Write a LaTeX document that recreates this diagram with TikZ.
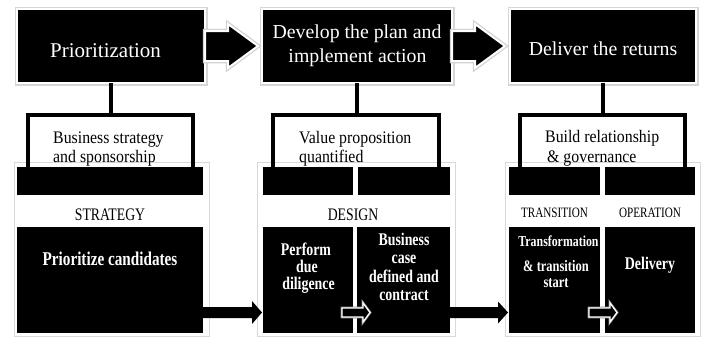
\documentclass[tikz,border=0pt]{standalone}
\usepackage{fontspec}
\setmainfont{Liberation Serif}
\newfontfamily\lowfont{Liberation Serif}[FakeStretch=0.78]
\newfontfamily\midfont{Liberation Serif}[FakeStretch=0.9]
\usetikzlibrary{calc}
\newcommand{\myarrow}[6]{\path[#1] let \p1=(#2), \p2=(#3) in (\x1,{\y1+#4}) -- ({\x2-#6},{\y1+#4}) -- ({\x2-#6},{\y1+#5}) -- (\x2,\y1) -- ({\x2-#6},{\y1-#5}) -- ({\x2-#6},{\y1-#4}) -- (\x1,{\y1-#4}) -- cycle;}
\tikzset{
 topbox/.style={fill=black, draw=white, line width=2pt, preaction={draw=black!16, line width=5pt}, inner sep=0pt, outer sep=0pt, minimum height=74pt},
 bar/.style={fill=black, inner sep=0pt, outer sep=0pt, minimum height=28pt},
 lowbox/.style={fill=black, inner sep=0pt, outer sep=0pt, minimum height=106pt},
 frame/.style={draw=black!15, line width=0.9pt},
 bracket/.style={draw=black, line width=4.5pt},
 fatarrow/.style={fill=black, draw=white, line width=2pt, preaction={draw=black!18, line width=4.5pt}},
 blackarrow/.style={fill=black},
 hollowarrow/.style={fill=black, draw=white, line width=1.3pt, preaction={draw=black!45, line width=2.6pt}},
 titletext/.style={text=white, font=\fontsize{19.8}{24}\selectfont, anchor=base, inner sep=0pt},
 boxtext/.style={text=white, font=\lowfont\bfseries\fontsize{17.8}{18}\selectfont, anchor=base, inner sep=0pt},
 phase/.style={font=\lowfont\fontsize{17.6}{18}\selectfont, anchor=base, inner sep=0pt},
 subphase/.style={font=\lowfont\fontsize{14.3}{16}\selectfont, anchor=base, inner sep=0pt},
 brtext/.style={font=\midfont\fontsize{17.6}{20}\selectfont, anchor=base west, inner sep=0pt},
}
\begin{document}
\begin{tikzpicture}[x=1pt,y=-1pt]
\useasboundingbox[fill=white] (0,0) rectangle (704,338);
% column frames
\draw[frame] (14,162) rectangle (209,336);
\draw[frame] (257,162) rectangle (455,336);
\draw[frame] (505,162) rectangle (700,336);
% top boxes
\node[topbox, minimum width=188pt] (prio) at (111,46) {};
\node[topbox, minimum width=190pt] (dev) at (357,46) {};
\node[topbox, minimum width=186pt] (del) at (603,46) {};
\node[titletext, font=\fontsize{21}{24}\selectfont] (tprio) at (105.5,57) {Prioritization};
\node[titletext] (tdevA) at (357,38) {Develop the plan and};
\node[titletext] (tdevB) at (357.5,62) {implement action};
\node[titletext] (tdel) at (603,55) {Deliver the returns};
% top arrows
\myarrow{fatarrow}{prio.east}{[xshift=-4pt]dev.west}{15pt}{22pt}{30pt}
\myarrow{fatarrow}{dev.east}{[xshift=-5pt]del.west}{15pt}{22pt}{30pt}
% bars
\node[bar, minimum width=186pt] (sbar) at (110,181) {};
\node[bar, minimum width=90pt] (dbarA) at (308,181) {};
\node[bar, minimum width=92pt] (dbarB) at (404,181) {};
\node[bar, minimum width=91pt] (tbarA) at (554.5,181) {};
\node[bar, minimum width=90pt] (tbarB) at (650,181) {};
% brackets
\coordinate (jA) at (111,115);
\coordinate (lA) at (28,115);
\coordinate (rA) at (193,115);
\coordinate (jB) at (357,115);
\coordinate (lB) at (273,115);
\coordinate (rB) at (439,115);
\coordinate (jC) at (603,115);
\coordinate (lC) at (520,115);
\coordinate (rC) at (685,115);
\draw[bracket] (prio.south) -- (jA);
\draw[bracket] (lA |- sbar.north) -- (lA) -- (rA) -- (rA |- sbar.north);
\draw[bracket] (dev.south) -- (jB);
\draw[bracket] (lB |- dbarA.north) -- (lB) -- (rB) -- (rB |- dbarB.north);
\draw[bracket] (del.south) -- (jC);
\draw[bracket] (lC |- tbarA.north) -- (lC) -- (rC) -- (rC |- tbarB.north);
\node[brtext] (bsA) at (53,143) {Business strategy};
\node[brtext] (bsB) at (53,162) {and sponsorship};
\node[brtext] (vpA) at (299,143) {Value proposition};
\node[brtext] (vpB) at (299,162) {quantified};
\node[brtext] (brA) at (545,142) {Build relationship};
\node[brtext] (brB) at (547,162) {\& governance};
% phase labels
\node[phase] (lstrat) at (110,220) {STRATEGY};
\node[phase] (ldes) at (353,220) {DESIGN};
\node[subphase] (ltrans) at (554.5,217) {TRANSITION};
\node[subphase] (loper) at (650,217) {OPERATION};
% lower boxes
\node[lowbox, minimum width=186pt] (sbox) at (110,280) {};
\node[lowbox, minimum width=90pt] (dboxA) at (308,280) {};
\node[lowbox, minimum width=93pt] (dboxB) at (403.5,280) {};
\node[lowbox, minimum width=91pt] (tboxA) at (554.5,280) {};
\node[lowbox, minimum width=90pt] (tboxB) at (650,280) {};
\node[boxtext, font=\lowfont\bfseries\fontsize{19.5}{20}\selectfont] (tsbox) at (110,265) {Prioritize candidates};
\node[boxtext] (pfA) at (306,255) {Perform};
\node[boxtext] (pfB) at (307,272) {due};
\node[boxtext] (pfC) at (308.5,289) {diligence};
\node[boxtext] (bcA) at (404,245) {Business};
\node[boxtext] (bcB) at (404,263) {case};
\node[boxtext] (bcC) at (404,282) {defined and};
\node[boxtext] (bcD) at (404,300) {contract};
\node[boxtext, font=\lowfont\bfseries\fontsize{15.2}{16}\selectfont] (trA) at (558.5,246) {Transformation};
\node[boxtext, font=\lowfont\bfseries\fontsize{16}{16}\selectfont] (trB) at (556,271) {\& transition};
\node[boxtext, font=\lowfont\bfseries\fontsize{16}{16}\selectfont] (trC) at (556,287) {start};
\node[boxtext] (tdeliv) at (650,269) {Delivery};
% lower arrows
\myarrow{blackarrow}{[yshift=-32.5pt]sbox.east}{[yshift=-32.5pt,xshift=-1pt]dboxA.west}{5.5pt}{11.5pt}{10pt}
\myarrow{blackarrow}{[yshift=-32.5pt]dboxB.east}{[yshift=-32.5pt,xshift=-1pt]tboxA.west}{5.5pt}{11pt}{10pt}
\myarrow{hollowarrow}{[yshift=-32.5pt,xshift=-11pt]dboxA.east}{[yshift=-32.5pt,xshift=13pt]dboxB.west}{4.5pt}{9.5pt}{7pt}
\myarrow{hollowarrow}{[yshift=-32.5pt,xshift=-11pt]tboxA.east}{[yshift=-32.5pt,xshift=12pt]tboxB.west}{4.5pt}{9.5pt}{7pt}
\end{tikzpicture}
\end{document}
